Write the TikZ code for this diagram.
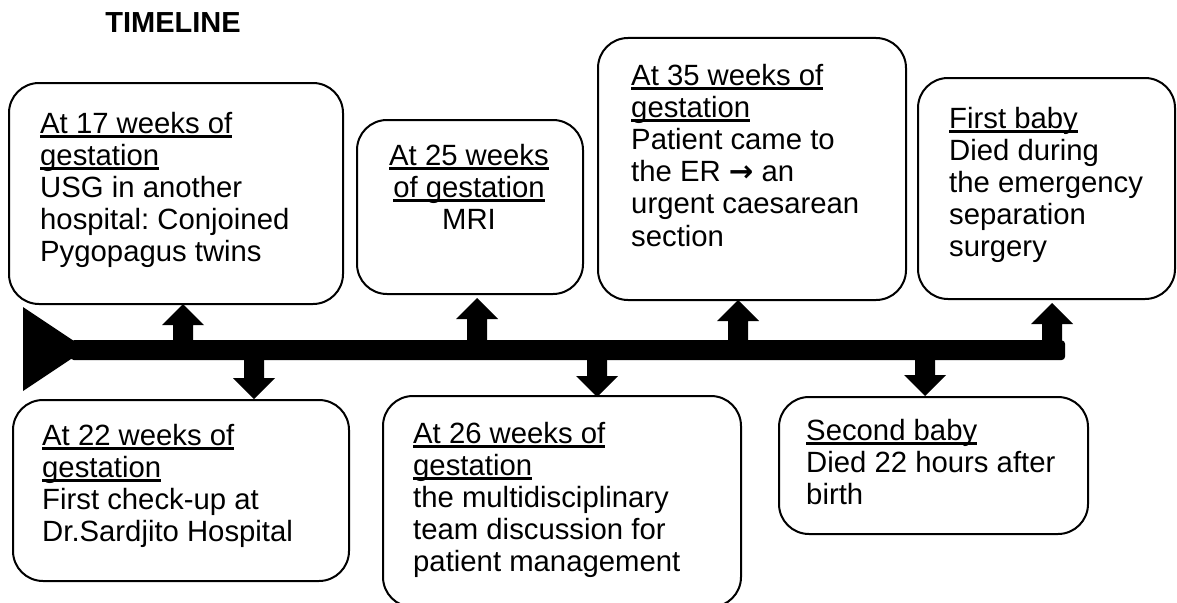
\documentclass[tikz,border=0pt]{standalone}
\usepackage{fontspec}
\setmainfont{Liberation Sans}
\newfontfamily\symfont{DejaVu Sans}
\newlength{\ulw}
\newcommand{\ulin}[1]{\settowidth{\ulw}{#1}\rlap{\rule[-4.6pt]{\ulw}{2.6pt}}#1}
\newcommand{\UpArr}[2]{\fill[blk] (#1,#2) -- (#1+21,#2+21) -- (#1+10,#2+21) -- (#1+10,341) -- (#1-10,341) -- (#1-10,#2+21) -- (#1-21,#2+21) -- cycle;}
\newcommand{\DnArr}[2]{\fill[blk] (#1,#2) -- (#1+21,#2-21) -- (#1+10,#2-21) -- (#1+10,359) -- (#1-10,359) -- (#1-10,#2-21) -- (#1-21,#2-21) -- cycle;}
\tikzset{
  evbox/.style={draw=black, line width=2pt, rounded corners=30pt, fill=white, inner sep=0pt, anchor=north west},
  txt/.style={inner sep=0pt, font=\fontsize{29.3}{32.2}\selectfont\frenchspacing},
  blk/.style={fill=black},
}
\begin{document}
\begin{tikzpicture}[x=1pt,y=-1pt]
\useasboundingbox[fill=white] (0,0) rectangle (1177,602);
\node[inner sep=0pt, anchor=base, font=\fontsize{29}{33}\selectfont\bfseries] (title) at (173,33) {TIMELINE};
% boxes
\node[evbox, minimum width=334pt, minimum height=221pt] (A) at (8,82) {};
\node[evbox, minimum width=226pt, minimum height=174pt] (B) at (356,119) {};
\node[evbox, minimum width=308pt, minimum height=262pt] (C) at (597,37) {};
\node[evbox, minimum width=257pt, minimum height=221pt] (D) at (917,77) {};
\node[evbox, minimum width=336pt, minimum height=181pt] (E) at (12,399) {};
\node[evbox, minimum width=358pt, minimum height=211pt] (F) at (382,395) {};
\node[evbox, minimum width=309pt, minimum height=137pt] (G) at (778,396) {};
% texts
\node[txt, anchor=base west] (tA) at (40,133) {\begin{tabular}[t]{@{}l@{}}\ulin{At 17 weeks of}\\ \ulin{gestation}\\ USG in another\\ hospital: Conjoined\\ Pygopagus twins\end{tabular}};
\node[txt, anchor=base] (tB) at (469,165) {\begin{tabular}[t]{@{}c@{}}\ulin{At 25 weeks}\\ \ulin{of gestation}\\ MRI\end{tabular}};
\node[txt, anchor=base west] (tC) at (631,85) {\begin{tabular}[t]{@{}l@{}}\ulin{At 35 weeks of}\\ \ulin{gestation}\\ Patient came to\\ the ER {\symfont\bfseries →} an\\ urgent caesarean\\ section\end{tabular}};
\node[txt, anchor=base west] (tD) at (949,128) {\begin{tabular}[t]{@{}l@{}}\ulin{First baby}\\ Died during\\ the emergency\\ separation\\ surgery\end{tabular}};
\node[txt, anchor=base west] (tE) at (42,445) {\begin{tabular}[t]{@{}l@{}}\ulin{At 22 weeks of}\\ \ulin{gestation}\\ First check-up at\\ Dr.Sardjito Hospital\end{tabular}};
\node[txt, anchor=base west] (tF) at (413,443) {\begin{tabular}[t]{@{}l@{}}\ulin{At 26 weeks of}\\ \ulin{gestation}\\ the multidisciplinary\\ team discussion for\\ patient management\end{tabular}};
\node[txt, anchor=base west] (tG) at (806,440) {\begin{tabular}[t]{@{}l@{}}\ulin{Second baby}\\ Died 22 hours after\\ birth\end{tabular}};
% timeline bar
\node[blk, inner sep=0pt, anchor=north west, minimum width=995pt, minimum height=20pt, rounded corners=4pt] (bar) at (70,340) {};
\fill[blk] (23,307) -- (86,349) -- (23,391) -- cycle;
% arrows
\UpArr{183}{304}
\UpArr{477}{298}
\UpArr{738}{300}
\UpArr{1052}{303}
\DnArr{254}{399}
\DnArr{597}{397}
\DnArr{925}{396}
\end{tikzpicture}
\end{document}
